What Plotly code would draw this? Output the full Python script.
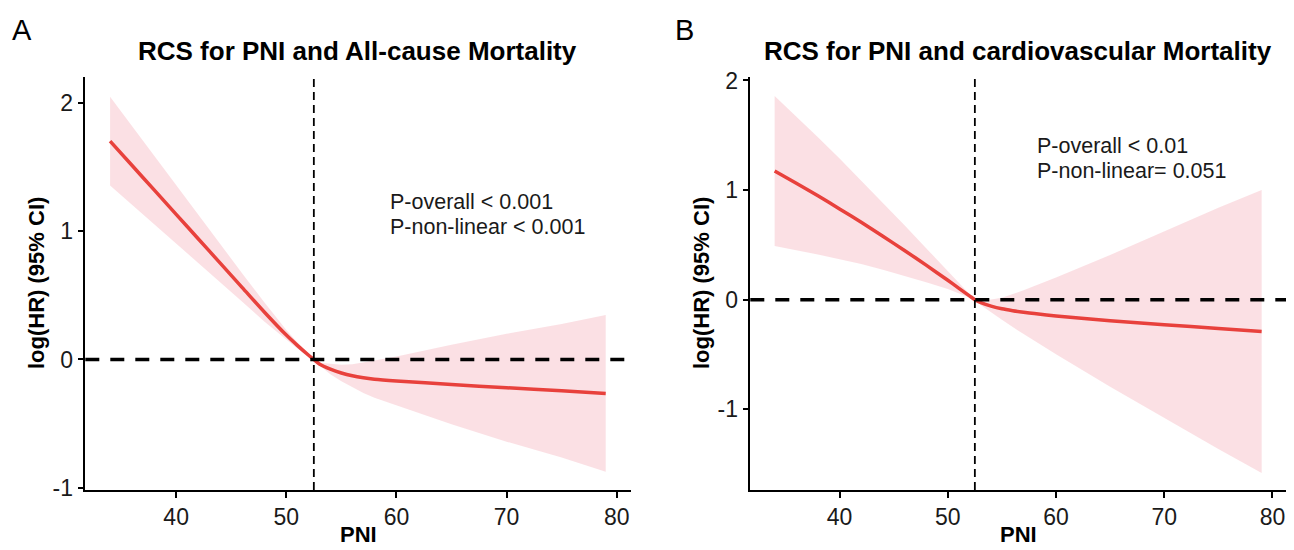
import plotly.graph_objects as go

# ---------------- data ----------------
pni = [34, 36, 38, 40, 42, 44, 46, 48, 50, 51, 52, 52.5, 53, 54, 55, 56, 57, 58, 60, 65, 70, 75, 79]

# Panel A: all-cause mortality
a_est = [1.70, 1.51, 1.32, 1.13, 0.94, 0.75, 0.56, 0.37, 0.19, 0.11, 0.035, 0.0,
         -0.035, -0.075, -0.105, -0.127, -0.142, -0.153, -0.167, -0.195, -0.22, -0.243, -0.264]
a_low = [1.355, 1.205, 1.055, 0.905, 0.755, 0.605, 0.45, 0.295, 0.15, 0.085, 0.027, 0.0,
         -0.045, -0.115, -0.17, -0.217, -0.26, -0.298, -0.357, -0.505, -0.64, -0.763, -0.874]
a_up = [2.045, 1.815, 1.585, 1.355, 1.125, 0.895, 0.67, 0.445, 0.23, 0.135, 0.043, 0.0,
        -0.025, -0.035, -0.04, -0.037, -0.025, -0.008, 0.023, 0.115, 0.2, 0.277, 0.346]

# Panel B: cardiovascular mortality
b_est = [1.174, 1.063, 0.948, 0.828, 0.706, 0.579, 0.449, 0.315, 0.177, 0.106, 0.035, 0.0,
         -0.025, -0.058, -0.083, -0.1, -0.114, -0.126, -0.148, -0.193, -0.228, -0.262, -0.29]
b_low = [0.489, 0.453, 0.413, 0.368, 0.326, 0.274, 0.219, 0.16, 0.097, 0.061, 0.02, 0.0,
         -0.045, -0.118, -0.183, -0.25, -0.314, -0.376, -0.498, -0.793, -1.078, -1.362, -1.58]
b_up = [1.859, 1.673, 1.483, 1.288, 1.086, 0.884, 0.679, 0.47, 0.257, 0.151, 0.05, 0.0,
        -0.005, 0.002, 0.017, 0.05, 0.086, 0.124, 0.202, 0.407, 0.622, 0.838, 1.0]

ref_pni = 52.5
ref_loghr = 0

titles = ["RCS for PNI and All-cause Mortality", "RCS for PNI and cardiovascular Mortality"]
panel_tags = ["A", "B"]
p_text_a = ["P-overall < 0.001", "P-non-linear < 0.001"]
p_text_b = ["P-overall < 0.01", "P-non-linear= 0.051"]
x_ticks = [40, 50, 60, 70, 80]
x_tick_text = ["40", "50", "60", "70", "80"]
y_ticks = [-1, 0, 1, 2]
y_tick_text = ["-1", "0", "1", "2"]

# ---------------- styling ----------------
OFF = 8  # page body margin of the exported html
W, H = 1294 - 2 * OFF, 550 - OFF
FONT = "Liberation Sans, Arial, sans-serif"
LINE_RED = "#E8413C"
BAND = "rgba(240,140,155,0.27)"
TXT = "#1a1a1a"


def px_x(p):
    return (p - OFF) / W


def px_y(p):
    return 1 - (p - OFF) / H


fig = go.Figure()

panels = [
    dict(est=a_est, low=a_low, up=a_up, xa="x", ya="y"),
    dict(est=b_est, low=b_low, up=b_up, xa="x2", ya="y2"),
]
for p in panels:
    fig.add_trace(go.Scatter(x=pni, y=p["low"], mode="lines", line=dict(width=0, color=BAND),
                             xaxis=p["xa"], yaxis=p["ya"], showlegend=False, hoverinfo="skip"))
    fig.add_trace(go.Scatter(x=pni, y=p["up"], mode="lines", line=dict(width=0, color=BAND),
                             fill="tonexty", fillcolor=BAND,
                             xaxis=p["xa"], yaxis=p["ya"], showlegend=False, hoverinfo="skip"))
    fig.add_trace(go.Scatter(x=pni, y=p["est"], mode="lines",
                             line=dict(width=3.5, color=LINE_RED, shape="spline", smoothing=0.7),
                             xaxis=p["xa"], yaxis=p["ya"], showlegend=False))

axis_common = dict(showline=True, linecolor="black", linewidth=1.5, ticks="outside",
                   ticklen=6, tickwidth=1.5, tickcolor="black", showgrid=False,
                   zeroline=False, tickfont=dict(family=FONT, size=23, color=TXT),
                   automargin=False)

ydom = [px_y(490), px_y(77.4)]
fig.update_layout(
    width=W, height=H, margin=dict(l=0, r=0, t=0, b=0),
    paper_bgcolor="white", plot_bgcolor="white",
    xaxis=dict(domain=[px_x(85.3), px_x(630.5)], range=[31.75, 81.25], tickvals=x_ticks,
               ticktext=x_tick_text, anchor="y", **axis_common),
    yaxis=dict(domain=ydom, range=[-1.016, 2.196], tickvals=y_ticks, ticktext=y_tick_text,
               anchor="x", **axis_common),
    xaxis2=dict(domain=[px_x(750.3), 1.0], range=[31.75, 81.25], tickvals=x_ticks,
                ticktext=x_tick_text, anchor="y2", **axis_common),
    yaxis2=dict(domain=ydom, range=[-1.736, 2.028], tickvals=y_ticks, ticktext=y_tick_text,
                anchor="x2", **axis_common),
)

# reference lines
for xa, ya in [("x", "y"), ("x2", "y2")]:
    fig.add_shape(type="line", xref=xa, yref=ya + " domain", x0=ref_pni, x1=ref_pni, y0=0, y1=1,
                  line=dict(color="black", width=1.8, dash="8px,5px"))
    fig.add_shape(type="line", xref=xa + " domain", yref=ya, x0=0, x1=1, y0=ref_loghr, y1=ref_loghr,
                  line=dict(color="black", width=3.5, dash="14px,11px"))

ann = []
# titles
for cx, t in zip([357.5, 1018], titles):
    ann.append(dict(text="<b>%s</b>" % t, x=px_x(cx), y=px_y(51), xref="paper", yref="paper",
                    xanchor="center", yanchor="middle", showarrow=False,
                    font=dict(family=FONT, size=26, color="black")))
# panel tags
for lx, t in zip([10, 673], panel_tags):
    ann.append(dict(text=t, x=px_x(lx), y=px_y(30), xref="paper", yref="paper",
                    xanchor="left", yanchor="middle", showarrow=False,
                    font=dict(family=FONT, size=29, color="black")))
# axis titles
for cx in [358, 1018]:
    ann.append(dict(text="<b>PNI</b>", x=px_x(cx), y=px_y(549), xref="paper", yref="paper",
                    xanchor="center", yanchor="bottom", showarrow=False,
                    font=dict(family=FONT, size=22, color="black")))
for cx in [36, 701]:
    ann.append(dict(text="<b>log(HR) (95% CI)</b>", x=px_x(cx), y=px_y(283), xref="paper",
                    yref="paper", xanchor="center", yanchor="middle", showarrow=False,
                    textangle=-90, font=dict(family=FONT, size=22, color="black")))
# p-values
for (lx, ys, texts) in [(388, [202, 227], p_text_a), (1035, [146, 171], p_text_b)]:
    for yy, t in zip(ys, texts):
        ann.append(dict(text=t, x=px_x(lx), y=px_y(yy), xref="paper", yref="paper",
                        xanchor="left", yanchor="middle", showarrow=False,
                        font=dict(family=FONT, size=21.5, color=TXT)))
fig.update_layout(annotations=ann)

fig.write_html("out.html")
